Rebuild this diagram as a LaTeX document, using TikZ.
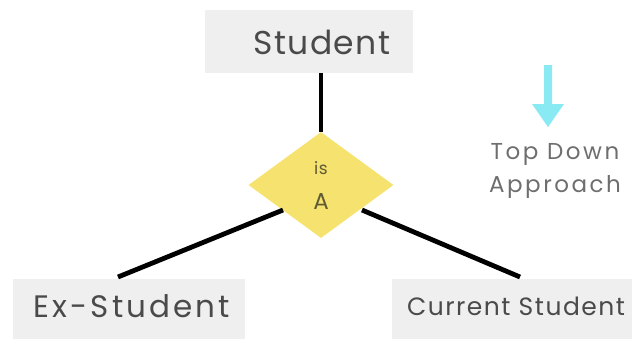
\documentclass[tikz,border=0pt]{standalone}
\usepackage{fontspec}
\setmainfont{Poppins}
\usetikzlibrary{shapes.geometric}
\definecolor{boxgray}{HTML}{EFEFEF}
\definecolor{txtgray}{HTML}{4A4A4A}
\definecolor{diayellow}{HTML}{F6E26E}
\definecolor{diatext}{HTML}{5E5A35}
\definecolor{arrcyan}{HTML}{8AEAF3}
\definecolor{notegray}{HTML}{6E6E6E}
\newcommand{\fsz}[2]{\fontsize{#1}{#1}\selectfont\addfontfeature{LetterSpace=#2}}
\tikzset{
  entity/.style={fill=boxgray, draw=none, inner sep=0pt, text=txtgray, anchor=north west},
  conn/.style={line width=4.8pt, black},
}
\begin{document}
\begin{tikzpicture}[x=1pt,y=-1pt]
\useasboundingbox (0,0) rectangle (632,338);
\node[entity, minimum width=208pt, minimum height=63pt] (student) at (205,10) {};
\node[text=txtgray, font=\fsz{33}{4}] (studentt) at (322,42) {Student};
\node[diamond, fill=diayellow, minimum width=145pt, minimum height=106pt, inner sep=0pt] (isa) at (321,185) {};
\node[text=diatext, font=\fsz{17}{4}] (ist) at (321,168) {is};
\node[text=diatext, font=\fsz{23}{0}] (at) at (321,202) {A};
\node[entity, minimum width=232pt, minimum height=60pt] (ex) at (13,279) {};
\node[text=txtgray, font=\fsz{31}{10}] (ext) at (132,306) {Ex-Student};
\node[entity, minimum width=240pt, minimum height=60pt] (cur) at (392,279) {};
\node[text=txtgray, font=\fsz{25}{6}] (curt) at (516,306) {Current Student};
\coordinate (lt) at (283,210);
\coordinate (lb) at (118,277);
\coordinate (rt) at (362,210);
\coordinate (rb) at (520,277);
\draw[conn] (student.south -| isa.north) -- (isa.north);
\draw[conn] (lt) -- (lb);
\draw[conn] (rt) -- (rb);
\fill[arrcyan] (544,65) -- (552,65) -- (552,104) -- (564,104) -- (548,127) -- (532,104) -- (544,104) -- cycle;
\node[text=notegray, font=\fsz{23}{11}, align=center] (note) at (555,171) {Top Down\\[10pt]Approach};
\end{tikzpicture}
\end{document}
